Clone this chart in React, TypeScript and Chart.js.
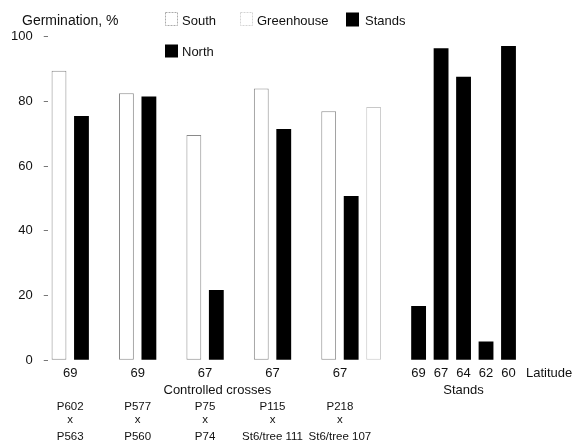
import { useEffect, useRef } from 'react';
import { Chart, registerables } from 'chart.js';

Chart.register(...registerables);

// ---- Data ----
const crossLatitudes = ['69', '69', '67', '67', '67'];
const crossParentsTop = ['P602', 'P577', 'P75', 'P115', 'P218'];
const crossParentsBottom = ['P563', 'P560', 'P74', 'St6/tree 111', 'St6/tree 107'];
const southValues = [89.5, 82.5, 69.6, 84.0, 77.0];
const northValues = [75.5, 81.5, 21.7, 71.5, 50.8];
const greenhouseValues: (number | null)[] = [null, null, null, null, 78.3];
const standLatitudes = ['69', '67', '64', '62', '60'];
const standValues = [16.8, 96.4, 87.6, 5.8, 97.1];
const yTickValues = [0, 20, 40, 60, 80, 100];

const yAxisTitle = 'Germination, %';
const crossesTitle = 'Controlled crosses';
const standsTitle = 'Stands';
const latitudeTitle = 'Latitude';
const legendItems = ['South', 'Greenhouse', 'Stands', 'North'];

const FONT = '"Liberation Sans", Arial, Helvetica, sans-serif';

export default function App() {
  const ref = useRef<HTMLCanvasElement>(null);

  useEffect(() => {
    if (!ref.current) return;
    const n = crossLatitudes.length;
    const standStart = n * 3 + 1;
    const slotCount = standStart + standLatitudes.length;
    const labels = Array.from({ length: slotCount }, (_, i) => String(i));
    const empty = () => Array(slotCount).fill(null) as (number | null)[];
    const south = empty();
    const north = empty();
    const green = empty();
    const stands = empty();
    southValues.forEach((v, i) => (south[3 * i] = v));
    northValues.forEach((v, i) => (north[3 * i + 1] = v));
    greenhouseValues.forEach((v, i) => (green[3 * i + 2] = v));
    standValues.forEach((v, i) => (stands[standStart + i] = v));

    const textPlugin = {
      id: 'textPlugin',
      afterDraw(chart: any) {
        const ctx = chart.ctx as CanvasRenderingContext2D;
        const xs = chart.scales.x;
        ctx.save();
        ctx.fillStyle = '#111';
        ctx.textBaseline = 'alphabetic';

        // Y axis title
        ctx.font = `14px ${FONT}`;
        ctx.textAlign = 'left';
        ctx.fillText(yAxisTitle, 22, 24.5);

        // Legend
        ctx.font = `13px ${FONT}`;
        const boxes = [
          { x: 165.5, y: 12.5, w: 12, h: 13, fill: '#fff', stroke: '#aaa', tx: 182, ty: 25 },
          { x: 240.5, y: 12.5, w: 12, h: 13, fill: '#fff', stroke: '#d4d4d4', tx: 257, ty: 25 },
          { x: 346, y: 12.5, w: 13, h: 14, fill: '#000', stroke: null, tx: 365, ty: 25 },
          { x: 165, y: 44.5, w: 13, h: 13, fill: '#000', stroke: null, tx: 182, ty: 55.5 },
        ];
        boxes.forEach((b, i) => {
          ctx.fillStyle = b.fill;
          ctx.fillRect(b.x, b.y, b.w, b.h);
          if (b.stroke) {
            ctx.strokeStyle = b.stroke;
            ctx.lineWidth = 1;
            ctx.setLineDash([2, 1]);
            ctx.strokeRect(b.x, b.y, b.w, b.h);
            ctx.setLineDash([]);
          }
          ctx.fillStyle = '#111';
          ctx.textAlign = 'left';
          ctx.fillText(legendItems[i], b.tx, b.ty);
        });

        // Cross latitude labels and parents
        ctx.textAlign = 'center';
        for (let i = 0; i < n; i++) {
          const cx = (xs.getPixelForValue(3 * i) + xs.getPixelForValue(3 * i + 1)) / 2;
          ctx.font = `13px ${FONT}`;
          ctx.fillText(crossLatitudes[i], cx, 376.5);
          ctx.font = `11.5px ${FONT}`;
          ctx.fillText(crossParentsTop[i], cx, 410);
          ctx.fillText('x', cx, 423);
          ctx.fillText(crossParentsBottom[i], cx, 440);
        }
        // Stand latitude labels
        ctx.font = `13px ${FONT}`;
        for (let i = 0; i < standLatitudes.length; i++) {
          ctx.fillText(standLatitudes[i], xs.getPixelForValue(standStart + i), 376.5);
        }
        // Group titles
        const crossCenter = (xs.getPixelForValue(0) + xs.getPixelForValue(3 * n - 1)) / 2;
        ctx.fillText(crossesTitle, crossCenter + 1, 393.5);
        const standCenter =
          (xs.getPixelForValue(standStart) + xs.getPixelForValue(slotCount - 1)) / 2;
        ctx.fillText(standsTitle, standCenter, 393.5);
        ctx.textAlign = 'left';
        ctx.fillText(latitudeTitle, 526, 376.5);
        ctx.restore();
      },
    };

    const common = {
      grouped: false,
      barPercentage: 0.66,
      categoryPercentage: 1,
      borderSkipped: false as const,
    };

    const chart = new Chart(ref.current, {
      type: 'bar',
      data: {
        labels,
        datasets: [
          { label: 'South', data: south, backgroundColor: '#fff', borderColor: '#8a8a8a', borderWidth: 1, ...common },
          { label: 'Greenhouse', data: green, backgroundColor: '#fff', borderColor: '#c8c8c8', borderWidth: 1, ...common },
          { label: 'Stands', data: stands, backgroundColor: '#000', borderWidth: 0, ...common },
          { label: 'North', data: north, backgroundColor: '#000', borderWidth: 0, ...common },
        ],
      },
      options: {
        animation: false,
        responsive: false,
        layout: { padding: { left: 0, right: 56.26, top: 36.7, bottom: 82.7 } },
        plugins: { legend: { display: false }, tooltip: { enabled: false } },
        scales: {
          x: { display: false, offset: true },
          y: {
            min: 0,
            max: 100,
            afterFit: (s: any) => {
              s.width = 47.76;
            },
            afterBuildTicks: (s: any) => {
              s.ticks = yTickValues.map((v) => ({ value: v }));
            },
            ticks: { font: { family: FONT, size: 13 }, color: '#111', padding: 11 },
            grid: { drawOnChartArea: false, drawTicks: true, tickLength: 4, color: '#777' },
            border: { display: false },
          },
        },
      },
      plugins: [textPlugin],
    });
    return () => chart.destroy();
  }, []);

  return (
    <div style={{ position: 'absolute', left: 0, top: 0, width: 576, height: 443, background: '#fff' }}>
      <canvas ref={ref} width={576} height={443} style={{ display: 'block' }} />
    </div>
  );
}
